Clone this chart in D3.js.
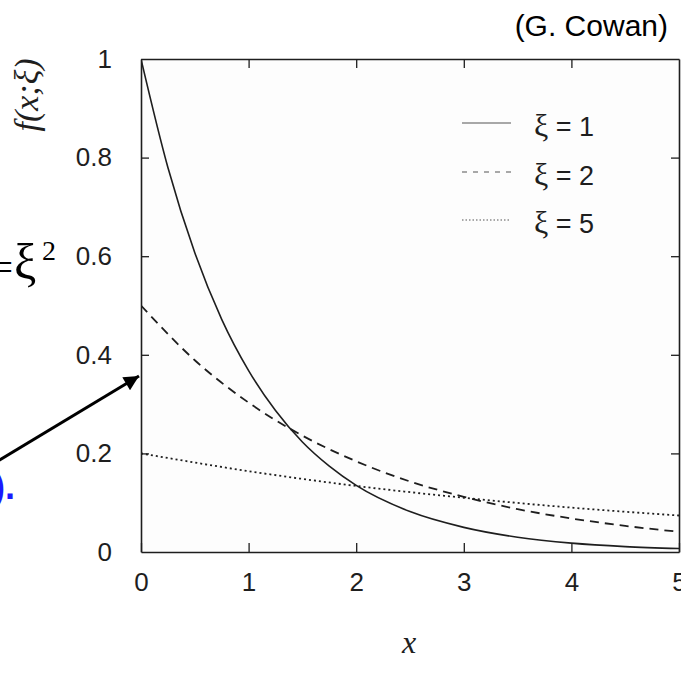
<!DOCTYPE html>
<html>
<head>
<meta charset="utf-8">
<script src="https://cdn.jsdelivr.net/npm/d3@7"></script>
<style>
  html, body { margin: 0; padding: 0; background: #ffffff; }
  svg { display: block; }
</style>
</head>
<body>
<svg id="chart" width="681" height="674"></svg>
<script>
// ---- data ----
const xTicks = [0, 1, 2, 3, 4, 5];
const xTickLabels = ["0", "1", "2", "3", "4", "5"];
const yTicks = [0, 0.2, 0.4, 0.6, 0.8, 1];
const yTickLabels = ["0", "0.2", "0.4", "0.6", "0.8", "1"];

const xs1 = [0, 0.25, 0.5, 0.75, 1, 1.25, 1.5, 1.75, 2, 2.5, 3, 3.5, 4, 4.5, 5];
const ys1 = [1.0, 0.78, 0.607, 0.472, 0.368, 0.287, 0.223, 0.174, 0.135, 0.082, 0.050, 0.030, 0.018, 0.011, 0.007];
const xs2 = [0, 0.5, 1, 1.5, 2, 2.5, 3, 3.5, 4, 4.5, 5];
const ys2 = [0.5, 0.389, 0.303, 0.236, 0.184, 0.143, 0.112, 0.087, 0.068, 0.053, 0.041];
const xs5 = [0, 1, 2, 3, 4, 5];
const ys5 = [0.2, 0.164, 0.134, 0.110, 0.090, 0.074];

const seriesNames = ["\u03BE = 1", "\u03BE = 2", "\u03BE = 5"];

// ---- layout ----
const svg = d3.select("#chart");
const L = 141, R = 679, T = 59, B = 552;
const x = d3.scaleLinear().domain([0, 5]).range([L, R]);
const y = d3.scaleLinear().domain([0, 1]).range([B, T]);
const ink = "#1e1e1e";
const sans = "'Liberation Sans', Arial, Helvetica, sans-serif";
const serif = "'Liberation Serif', 'Times New Roman', serif";

// plot background
svg.append("rect").attr("x", L).attr("y", T).attr("width", R - L).attr("height", B - T)
  .attr("fill", "#fdfdfd");

// axes
function styleAxis(g, labels) {
  g.selectAll("path.domain").attr("stroke", ink).attr("stroke-width", 1.6);
  g.selectAll(".tick line").attr("stroke", ink).attr("stroke-width", 1.3);
  if (labels) {
    g.selectAll(".tick text").attr("fill", ink).style("font-family", sans).style("font-size", "26px");
  } else {
    g.selectAll(".tick text").remove();
  }
}

const gB = svg.append("g").attr("transform", `translate(0,${B})`)
  .call(d3.axisBottom(x).tickValues(xTicks).tickFormat((d, i) => xTickLabels[i])
    .tickSizeInner(-9).tickSizeOuter(0).tickPadding(21));
styleAxis(gB, true);
gB.selectAll(".tick text").attr("dy", "0.71em");

const gT = svg.append("g").attr("transform", `translate(0,${T})`)
  .call(d3.axisTop(x).tickValues(xTicks.slice(1, -1)).tickSizeInner(-9).tickSizeOuter(0));
styleAxis(gT, false);

const gL = svg.append("g").attr("transform", `translate(${L},0)`)
  .call(d3.axisLeft(y).tickValues(yTicks).tickFormat((d, i) => yTickLabels[i])
    .tickSizeInner(-8).tickSizeOuter(0).tickPadding(29));
styleAxis(gL, true);
gL.selectAll(".tick line").filter(d => d === 0 || d === 1).remove();

const gR = svg.append("g").attr("transform", `translate(${R},0)`)
  .call(d3.axisRight(y).tickValues(yTicks.slice(1, -1)).tickSizeInner(-8).tickSizeOuter(0));
styleAxis(gR, false);

// curves
const line = d3.line().x(d => x(d[0])).y(d => y(d[1])).curve(d3.curveMonotoneX);
svg.append("clipPath").attr("id", "pc").append("rect")
  .attr("x", L).attr("y", T - 1).attr("width", R - L).attr("height", B - T + 1);

const series = [
  { xs: xs1, ys: ys1, dash: null, w: 1.6 },
  { xs: xs2, ys: ys2, dash: "9,6", w: 1.8 },
  { xs: xs5, ys: ys5, dash: "2,3", w: 1.8 }
];
series.forEach(s => {
  svg.append("path")
    .attr("d", line(d3.zip(s.xs, s.ys)))
    .attr("fill", "none").attr("stroke", ink).attr("stroke-width", s.w)
    .attr("stroke-dasharray", s.dash)
    .attr("clip-path", "url(#pc)");
});

// legend
const legY = [123, 172, 220];
const legDash = [null, "5,6", "1.5,2"];
seriesNames.forEach((name, i) => {
  svg.append("line").attr("x1", 462).attr("x2", 511).attr("y1", legY[i]).attr("y2", legY[i])
    .attr("stroke", "#555").attr("stroke-width", 1.2).attr("stroke-dasharray", legDash[i]);
  const t = svg.append("text").attr("x", 534).attr("y", legY[i] + 13)
    .attr("fill", ink).style("font-size", "27px");
  t.append("tspan").style("font-family", serif).style("font-size", "32px").text(name.slice(0, 1));
  t.append("tspan").style("font-family", sans).text(name.slice(1));
});

// axis titles
svg.append("text").attr("x", 409).attr("y", 653).attr("text-anchor", "middle")
  .style("font-family", serif).style("font-style", "italic").style("font-size", "32px")
  .attr("fill", ink).text("x");

svg.append("text").attr("transform", "translate(38,95) rotate(-90)").attr("text-anchor", "middle")
  .style("font-family", serif).style("font-style", "italic").style("font-size", "34px")
  .attr("fill", ink).text("f(x;\u03BE)");

// credit
svg.append("text").attr("x", 668).attr("y", 36).attr("text-anchor", "end")
  .style("font-family", sans).style("font-size", "30px").attr("fill", "#000").text("(G. Cowan)");

// slide fragments at left edge
svg.append("text").attr("x", 13).attr("y", 281).attr("text-anchor", "end")
  .style("font-family", serif).style("font-size", "40px").attr("fill", "#000").text("=");
svg.append("text").attr("x", 14).attr("y", 279)
  .style("font-family", serif).style("font-size", "50px").attr("fill", "#000").text("\u03BE");
svg.append("text").attr("x", 42).attr("y", 260)
  .style("font-family", serif).style("font-size", "28px").attr("fill", "#000").text("2");

svg.append("text").attr("x", 15).attr("y", 499).attr("text-anchor", "end")
  .style("font-family", sans).style("font-weight", "bold").style("font-size", "36px")
  .attr("fill", "#1a1aff").text(").");

// arrow
const defs = svg.append("defs");
defs.append("marker").attr("id", "ah").attr("viewBox", "0 0 10 10").attr("refX", 10).attr("refY", 5)
  .attr("markerWidth", 6).attr("markerHeight", 5).attr("markerUnits", "strokeWidth").attr("orient", "auto")
  .append("path").attr("d", "M0,0 L10,5 L0,10 z").attr("fill", "#000");
svg.append("line").attr("x1", -2).attr("y1", 461).attr("x2", 139).attr("y2", 376)
  .attr("stroke", "#000").attr("stroke-width", 3).attr("marker-end", "url(#ah)");
</script>
</body>
</html>
